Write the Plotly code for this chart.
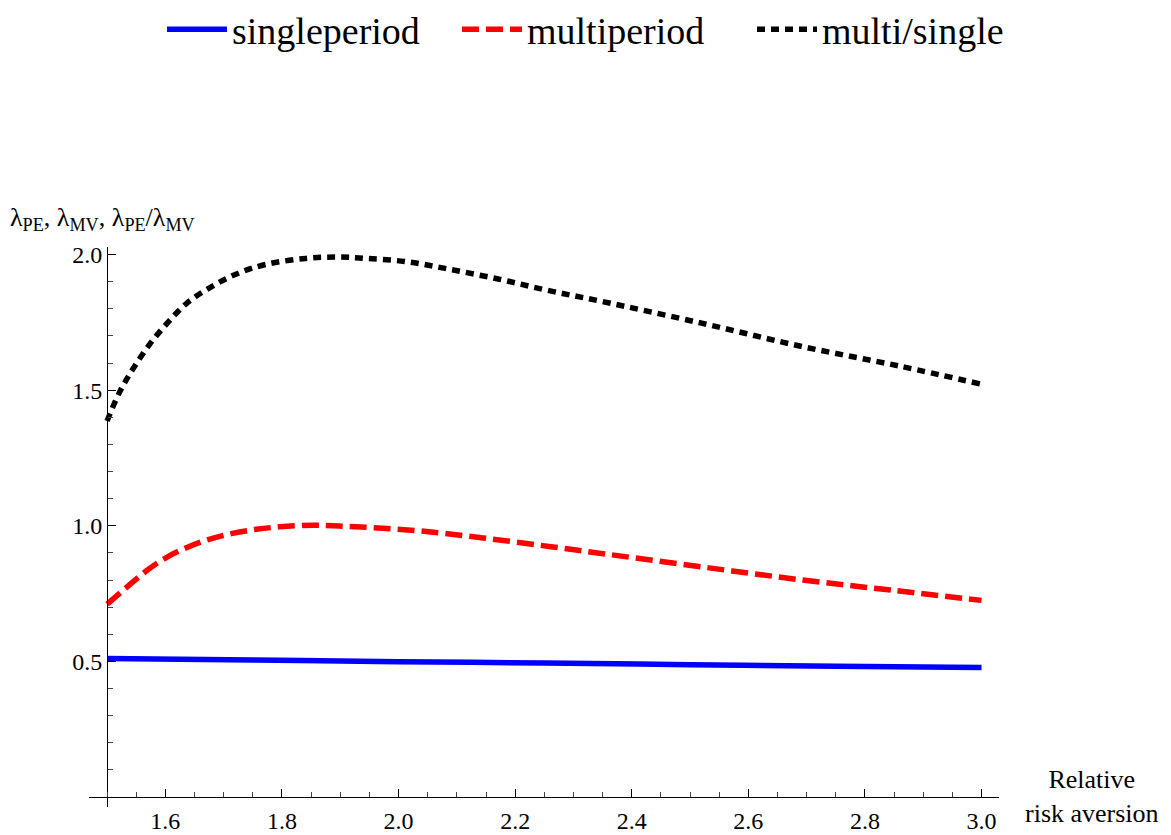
import plotly.graph_objects as go

# ---- data ----
x_single = [1.50, 1.75, 2.00, 2.25, 2.50, 2.75, 3.00]
y_single = [0.511, 0.505, 0.499, 0.494, 0.488, 0.482, 0.477]

x_multi = [1.500, 1.533, 1.567, 1.601, 1.636, 1.675, 1.715, 1.756, 1.796, 1.853,
           1.898, 1.956, 2.036, 2.141, 2.261, 2.379, 2.539, 2.697, 2.848, 3.000]
y_multi = [0.711, 0.772, 0.833, 0.882, 0.919, 0.950, 0.972, 0.987, 0.996, 1.002,
           0.999, 0.993, 0.981, 0.956, 0.923, 0.889, 0.843, 0.799, 0.762, 0.725]

x_ratio = [1.500, 1.521, 1.544, 1.573, 1.604, 1.638, 1.681, 1.727, 1.773, 1.841,
           1.896, 1.944, 2.013, 2.087, 2.173, 2.256, 2.345, 2.516, 2.688, 2.859, 3.000]
y_ratio = [1.386, 1.491, 1.577, 1.669, 1.749, 1.823, 1.884, 1.933, 1.964, 1.986,
           1.991, 1.986, 1.974, 1.946, 1.909, 1.868, 1.829, 1.749, 1.663, 1.589, 1.522]

x_ticks = [1.6, 1.8, 2.0, 2.2, 2.4, 2.6, 2.8, 3.0]
x_tick_labels = ["1.6", "1.8", "2.0", "2.2", "2.4", "2.6", "2.8", "3.0"]
x_minor = [1.5 + 0.05 * i for i in range(31)]
y_ticks = [0.5, 1.0, 1.5, 2.0]
y_tick_labels = ["0.5", "1.0", "1.5", "2.0"]
y_minor = [0.1 * i for i in range(1, 21)]

series_names = ["singleperiod", "multiperiod", "multi/single"]

# ---- layout geometry (page pixels; the page body has an 8px margin) ----
W, H = 1171, 835
OX, OY = 8, 8
PL, PR, PT, PB = 89, 999, 247, 807          # plot area in page pixels
XR = [1.469, 3.030]
YR = [-0.037, 2.028]
x_origin, y_origin = 1.5, 0.0
xpos = (y_origin - YR[0]) / (YR[1] - YR[0])
ypos = (x_origin - XR[0]) / (XR[1] - XR[0])
FW, FH = W - OX, H - OY
ML, MT = PL - OX, PT - OY
MR, MB = FW - (PR - OX), FH - (PB - OY)
PW, PH = PR - PL, PB - PT

def px_to_paper_x(px):
    return (px - PL) / PW

def px_to_paper_y(py):
    return (PB - py) / PH

SERIF = "Liberation Serif, Times New Roman, serif"

fig = go.Figure()
fig.add_trace(go.Scatter(x=x_single, y=y_single, mode="lines", name=series_names[0],
                         line=dict(color="#0000ff", width=5.5, shape="spline")))
fig.add_trace(go.Scatter(x=x_multi, y=y_multi, mode="lines", name=series_names[1],
                         line=dict(color="#ff0000", width=5.5, dash="17px,7px", shape="spline")))
fig.add_trace(go.Scatter(x=x_ratio, y=y_ratio, mode="lines", name=series_names[2],
                         line=dict(color="#000000", width=5.5, dash="8px,6px", shape="spline")))

fig.update_layout(
    width=FW, height=FH,
    margin=dict(l=ML, r=MR, t=MT, b=MB, autoexpand=False),
    paper_bgcolor="white", plot_bgcolor="white",
    font=dict(family=SERIF, color="black"),
    showlegend=True,
    legend=dict(orientation="h", x=px_to_paper_x(162), xanchor="left",
                y=px_to_paper_y(-2), yanchor="top",
                font=dict(family=SERIF, size=38, color="black"),
                itemwidth=60, entrywidth=220, entrywidthmode="pixels",
                bgcolor="rgba(0,0,0,0)"),
    xaxis=dict(range=XR, anchor="free", position=xpos,
               showline=True, linecolor="black", linewidth=1,
               showgrid=False, zeroline=False,
               tickmode="array", tickvals=x_ticks, ticktext=x_tick_labels,
               ticks="inside", ticklen=8, tickwidth=1, tickcolor="black",
               ticklabelstandoff=2,
               tickfont=dict(family=SERIF, size=24, color="black"),
               minor=dict(tickmode="array", tickvals=x_minor, ticks="inside",
                          ticklen=5, tickwidth=1, tickcolor="#444")),
    yaxis=dict(range=YR, anchor="free", position=ypos,
               showline=True, linecolor="black", linewidth=1,
               showgrid=False, zeroline=False,
               tickmode="array", tickvals=y_ticks, ticktext=y_tick_labels,
               ticks="inside", ticklen=8, tickwidth=1, tickcolor="black",
               ticklabelstandoff=0,
               tickfont=dict(family=SERIF, size=24, color="black"),
               minor=dict(tickmode="array", tickvals=y_minor, ticks="inside",
                          ticklen=5, tickwidth=1, tickcolor="#444")),
    annotations=[
        dict(text="λ<sub>PE</sub>, λ<sub>MV</sub>, λ<sub>PE</sub>/λ<sub>MV</sub>",
             xref="paper", yref="paper", x=px_to_paper_x(8), y=px_to_paper_y(219),
             xanchor="left", yanchor="middle", showarrow=False,
             font=dict(family=SERIF, size=26, color="black")),
        dict(text="Relative<br>risk aversion",
             xref="paper", yref="paper", x=px_to_paper_x(1092), y=px_to_paper_y(796),
             xanchor="center", yanchor="middle", showarrow=False, align="center",
             font=dict(family=SERIF, size=26, color="black")),
    ],
)

fig.write_html("out.html")
